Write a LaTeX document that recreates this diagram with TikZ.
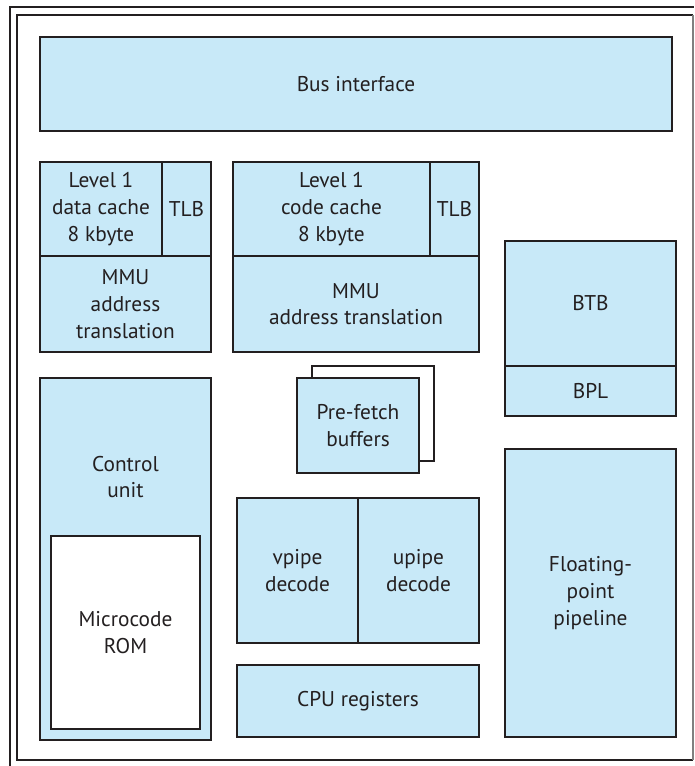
\documentclass[tikz,border=0pt]{standalone}
\usepackage{fontspec}
\setmainfont{PT Sans}
\usetikzlibrary{positioning}
\definecolor{ink}{HTML}{231F20}
\definecolor{chipblue}{HTML}{C8E9F8}
\begin{document}
\begin{tikzpicture}[
  x=0.75pt, y=-0.75pt,
  blk/.style={draw=ink, fill=chipblue, line width=2pt, inner sep=0pt, outer sep=0pt,
    align=center, text=ink, font=\fontsize{16}{20}\selectfont},
  wblk/.style={blk, fill=white},
  sz/.style 2 args={minimum width=#1*0.75pt, minimum height=#2*0.75pt},
  txt/.style={align=center, text=ink, font=\fontsize{16}{20}\selectfont},
  frame/.style={draw=ink, line width=2.2pt},
]
\useasboundingbox (0,0) rectangle (694,766);

% ===== Chip outline ==========================================================
\draw[frame] (10,766) -- (10,7) -- (694,7);
\draw[frame] (693,760) -- (17,760) -- (17,15) -- (693,15);
\draw[gray, line width=0.8pt] (693,15) -- (693,760);

% ===== Bus interface =========================================================
\node[blk, sz={632}{94}, anchor=north west] (bus) at (40,37) {Bus interface};

% ===== Data cache block ======================================================
\node[blk, sz={122}{94}, anchor=north west] (dcache) at (40,162)
  {Level 1\\data cache\\8 kbyte};
\node[blk, sz={49}{94}, right=0pt of dcache] (dtlb) {TLB};
\node[blk, sz={171}{96}, anchor=north west] (dmmu) at (dcache.south west)
  {MMU\\address\\translation};

% ===== Code cache block ======================================================
\node[blk, sz={197}{94}, anchor=north west] (ccache) at (233,162)
  {Level 1\\code cache\\8 kbyte};
\node[blk, sz={49}{94}, right=0pt of ccache] (ctlb) {TLB};
\node[blk, sz={246}{96}, anchor=north west] (cmmu) at (ccache.south west)
  {MMU\\address translation};

% ===== Branch prediction =====================================================
\node[blk, sz={171}{125}, anchor=north west] (btb) at (505,241) {BTB};
\node[blk, sz={171}{50}, below=0pt of btb] (bpl) {BPL};

% ===== Pre-fetch buffers =====================================================
\node[wblk, sz={122}{95}, anchor=north west] (pfback) at (312,366) {};
\node[blk, sz={122}{95}, anchor=north west] (pf) at (297,378) {Pre-fetch\\buffers};

% ===== Control unit ==========================================================
\node[blk, sz={171}{362}, anchor=north west] (ctrl) at (40,378) {};
\node[txt] (ctrltxt) at (125.5,477) {Control\\unit};
\node[wblk, sz={149}{193}, anchor=north west] (rom) at (51,536) {Microcode\\ROM};

% ===== Decode and registers ==================================================
\node[blk, sz={121}{145}, anchor=north west] (vpipe) at (237,498) {vpipe\\decode};
\node[blk, sz={121}{145}, right=0pt of vpipe] (upipe) {upipe\\decode};
\node[blk, sz={242}{72}, anchor=north west] (regs) at (237,665) {CPU registers};

% ===== Floating-point pipeline ===============================================
\node[blk, sz={171}{288}, anchor=north west] (fpu) at (505,449)
  {Floating-\\point\\pipeline};

\end{tikzpicture}
\end{document}
